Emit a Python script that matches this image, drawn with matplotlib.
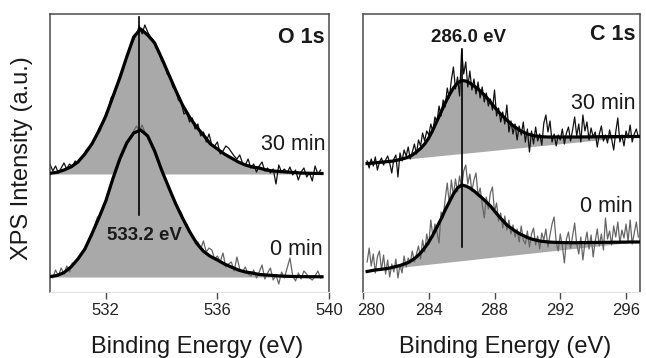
import matplotlib
matplotlib.use("Agg")
import matplotlib.pyplot as plt
import numpy as np

plt.rcParams['font.family'] = ['Liberation Sans', 'DejaVu Sans']

# ---------------- data (arbitrary intensity units) ----------------
# O 1s, raw spectra sampled every 0.1 eV from 530.0 eV
o_raw_30 = [128, 121, 126, 119, 124, 129, 123, 128, 125, 131,
            129, 134, 137, 142, 145, 149, 153, 160, 166, 170,
            178, 184, 195, 197, 206, 216, 222, 230, 240, 246,
            252, 258, 266, 258, 267, 260, 255, 252, 244, 241,
            231, 229, 218, 216, 205, 203, 192, 190, 178, 180,
            170, 174, 163, 168, 156, 160, 150, 158, 147, 146,
            150, 138, 141, 146, 144, 140, 136, 133, 137, 129,
            127, 133, 124, 128, 120, 126, 130, 121, 124, 119,
            123, 108, 127, 120, 123, 119, 125, 117, 122, 112,
            120, 124, 115, 119, 111, 126, 118, 122]
o_raw_0 = [17, 14, 22, 16, 24, 18, 26, 20, 29, 28,
           33, 36, 42, 45, 53, 56, 66, 75, 76, 86,
           92, 98, 109, 116, 124, 134, 139, 146, 152, 154,
           161, 166, 161, 167, 160, 157, 150, 146, 137, 131,
           121, 115, 108, 104, 94, 90, 81, 80, 70, 68,
           61, 56, 52, 50, 43, 51, 40, 44, 42, 33,
           36, 30, 39, 25, 28, 30, 21, 35, 23, 20,
           25, 18, 16, 22, 14, 20, 27, 13, 19, 24,
           12, 17, 8, 20, 14, 24, 34, 16, 11, 19,
           13, 21, 18, 14, 12, 16, 21, 14]
# O 1s, fitted envelopes every 0.25 eV from 530.0 eV
o_fit_30 = [118.7, 119.7, 122, 125, 130, 138, 148, 161, 176, 195,
            214, 235, 255, 263, 257, 249, 234, 218, 202, 187,
            175, 165, 157, 148, 143, 138, 134, 130, 127, 125,
            124, 122, 121, 120.5, 120, 119.5, 119, 118.8, 118.6, 118.5]
o_fit_0 = [15.4, 16.5, 19.4, 25, 33, 43, 58, 74, 91, 113,
           133, 149, 159, 162, 156, 141, 122, 105, 88.5, 74,
           60.6, 49, 40.7, 35.6, 32, 28, 25, 22, 20, 19,
           17.5, 17, 16.5, 16, 15.7, 15.5, 15.4, 15.3, 15.3, 15.2]
o_base = [118, 15]

# C 1s, raw spectra sampled every 0.125 eV from 280.25 eV
c_raw_30 = [131, 124, 133, 126, 135, 122, 130, 134, 127, 132,
            136, 129, 119, 133, 137, 115, 139, 131, 142, 136,
            145, 133, 140, 148, 138, 152, 146, 159, 151, 161,
            157, 168, 160, 175, 170, 186, 176, 192, 185, 204,
            194, 212, 225, 203, 215, 196, 242, 218, 230, 205,
            221, 202, 213, 198, 210, 194, 205, 190, 199, 186,
            193, 182, 202, 176, 184, 170, 180, 168, 187, 160,
            171, 158, 168, 152, 166, 157, 170, 150, 163, 140,
            161, 148, 165, 151, 158, 147, 169, 177, 160, 171,
            150, 158, 146, 157, 152, 163, 148, 159, 165, 151,
            162, 175, 156, 168, 150, 177, 161, 170, 152, 164,
            155, 160, 145, 158, 166, 151, 157, 149, 162, 153,
            142, 160, 174, 150, 157, 146, 161, 154, 167, 150,
            158, 163, 155]
c_raw_0 = [30, 44, 26, 38, 19, 35, 41, 22, 37, 18,
           32, 15, 28, 20, 33, 14, 27, 19, 36, 25,
           34, 29, 41, 30, 38, 46, 33, 52, 40, 58,
           47, 72, 55, 68, 60, 49, 80, 74, 93, 109,
           88, 112, 96, 113, 100, 116, 104, 121, 127, 108,
           118, 101, 112, 119, 96, 104, 88, 74, 95, 83,
           99, 105, 80, 89, 71, 79, 64, 76, 62, 72,
           58, 67, 55, 63, 50, 66, 52, 48, 61, 45,
           58, 64, 47, 56, 43, 59, 52, 63, 45, 57,
           68, 75, 50, 41, 58, 46, 29, 53, 60, 44,
           56, 69, 48, 38, 55, 32, 49, 60, 43, 57,
           35, 51, 63, 46, 58, 42, 74, 53, 61, 47,
           66, 55, 70, 49, 62, 54, 68, 51, 72, 48,
           59, 70, 55]
# C 1s, fitted envelopes every 0.25 eV from 280.25 eV
c_fit_30 = [128.5, 128.8, 129.2, 129.6, 130, 130.4, 130.8, 131.5, 132.5, 133.5,
            135, 137, 140, 143.5, 148, 154, 162, 171, 180, 189,
            197, 204, 209, 211.5, 211, 209, 206, 203, 199, 195,
            190, 185, 180, 176, 172, 168, 165, 162, 160, 158,
            157, 156, 155.5, 155.2, 155, 155, 155, 155, 155, 155,
            155, 155, 155, 155.1, 155.1, 155.2, 155.2, 155.3, 155.3, 155.3,
            155.4, 155.4, 155.4, 155.5, 155.5, 155.5, 155.5]
c_fit_0 = [20.5, 21.3, 22, 22.5, 23, 23.5, 24.5, 25.5, 26.5, 28,
           29.5, 32, 35, 39, 44, 50, 57, 65, 73, 82,
           90, 98, 104, 107, 106, 104, 101, 97.5, 94, 90,
           86, 81, 76, 71.5, 67, 64, 61, 58.5, 56.5, 54.5,
           53, 52, 51, 50.5, 50, 49.8, 49.6, 49.5, 49.4, 49.3,
           49.3, 49.3, 49.4, 49.4, 49.5, 49.5, 49.6, 49.6, 49.7, 49.7,
           49.8, 49.8, 49.9, 49.9, 50, 50, 50]
# linear backgrounds: value at the first and last fit point
c_base_30 = [128.5, 155.5]
c_base_0 = [20.5, 50]

o_peak, c_peak = 533.2, 286.0

# ---------------- style ----------------
fill_c = '#a9a9a9'
spine_c = '#4a4a4a'
txt_c = '#1a1a1a'

fig = plt.figure(figsize=(6.46, 3.58), dpi=100)
ax1 = fig.add_axes([50 / 646, 66 / 358, 279 / 646, 278 / 358])
ax2 = fig.add_axes([363 / 646, 66 / 358, 277 / 646, 278 / 358])

# ---------------- O 1s ----------------
xo_raw = 530.0 + 0.1 * np.arange(len(o_raw_30))
xo_fit = 530.0 + 0.25 * np.arange(len(o_fit_30))

ax1.fill_between(xo_fit, o_base[0], o_fit_30, color=fill_c, lw=0, zorder=1)
ax1.fill_between(xo_fit, o_base[1], o_fit_0, color=fill_c, lw=0, zorder=1)
ax1.plot(xo_raw, o_raw_30, color='#111111', lw=0.9, zorder=2)
ax1.plot(xo_raw, o_raw_0, color='#666666', lw=0.9, zorder=2)
ax1.plot(xo_fit, o_fit_30, color='black', lw=2.3, zorder=3)
ax1.plot(xo_fit, o_fit_0, color='black', lw=2.3, zorder=3)
ax1.plot([o_peak, o_peak], [77, 275], color='black', lw=1.2, zorder=4)
ax1.text(533.39, 57, '533.2 eV', fontsize=13.5, weight='bold', color=txt_c,
         ha='center', va='center', zorder=5)
ax1.text(0.986, 0.915, 'O 1s', transform=ax1.transAxes, fontsize=15.5,
         weight='bold', color=txt_c, ha='right', va='center')
ax1.text(0.986, 0.529, '30 min', transform=ax1.transAxes, fontsize=15.5,
         color=txt_c, ha='right', va='center')
ax1.text(0.977, 0.153, '0 min', transform=ax1.transAxes, fontsize=15.5,
         color=txt_c, ha='right', va='center')
ax1.set_xlim(530, 540)
ax1.set_xticks([532, 536, 540])

# ---------------- C 1s ----------------
xc_raw = 280.25 + 0.125 * np.arange(len(c_raw_30))
xc_fit = 280.25 + 0.25 * np.arange(len(c_fit_30))
xc_ends = [xc_fit[0], xc_fit[-1]]

for fit, base in [(c_fit_30, c_base_30), (c_fit_0, c_base_0)]:
    px = np.concatenate([xc_fit, xc_ends[::-1]])
    py = np.concatenate([fit, base[::-1]])
    ax2.fill(px, py, color=fill_c, lw=0, zorder=1)
ax2.plot(xc_raw, c_raw_30, color='#111111', lw=0.9, zorder=2)
ax2.plot(xc_raw, c_raw_0, color='#666666', lw=0.9, zorder=2)
ax2.plot(xc_fit, c_fit_30, color='black', lw=2.3, zorder=3)
ax2.plot(xc_fit, c_fit_0, color='black', lw=2.3, zorder=3)
ax2.plot([c_peak, c_peak], [45, 243], color='black', lw=1.2, zorder=4)
ax2.text(286.4, 254.5, '286.0 eV', fontsize=13.5, weight='bold', color=txt_c,
         ha='center', va='center', zorder=5)
ax2.text(0.982, 0.925, 'C 1s', transform=ax2.transAxes, fontsize=15.5,
         weight='bold', color=txt_c, ha='right', va='center')
ax2.text(0.982, 0.678, '30 min', transform=ax2.transAxes, fontsize=15.5,
         color=txt_c, ha='right', va='center')
ax2.text(0.975, 0.308, '0 min', transform=ax2.transAxes, fontsize=15.5,
         color=txt_c, ha='right', va='center')
ax2.set_xlim(280.18, 296.85)
ax2.set_xticks([280, 284, 288, 292, 296])

# ---------------- axes cosmetics ----------------
for ax in (ax1, ax2):
    ax.set_ylim(0, 278)
    ax.set_yticks([])
    for side in ('left', 'top', 'right'):
        ax.spines[side].set_color(spine_c)
        ax.spines[side].set_linewidth(1.1)
    ax.spines['bottom'].set_color('#e4e4e4')
    ax.tick_params(axis='x', direction='out', length=5, width=1,
                   color=spine_c, labelsize=12, labelcolor='#222222', pad=3)

# nudge the crowded "280" label to the right, as in the original
from matplotlib.transforms import ScaledTranslation
lab = ax2.xaxis.get_major_ticks()[0].label1
lab.set_transform(lab.get_transform() + ScaledTranslation(0.08, 0, fig.dpi_scale_trans))

fig.text(22 / 646, 0.558, 'XPS Intensity (a.u.)', rotation=90, fontsize=17,
         color=txt_c, ha='center', va='center')
fig.text(197 / 646, 0.031, 'Binding Energy (eV)', fontsize=17, color=txt_c,
         ha='center', va='center')
fig.text(505 / 646, 0.031, 'Binding Energy (eV)', fontsize=17, color=txt_c,
         ha='center', va='center')

fig.savefig('out.png', dpi=100)
